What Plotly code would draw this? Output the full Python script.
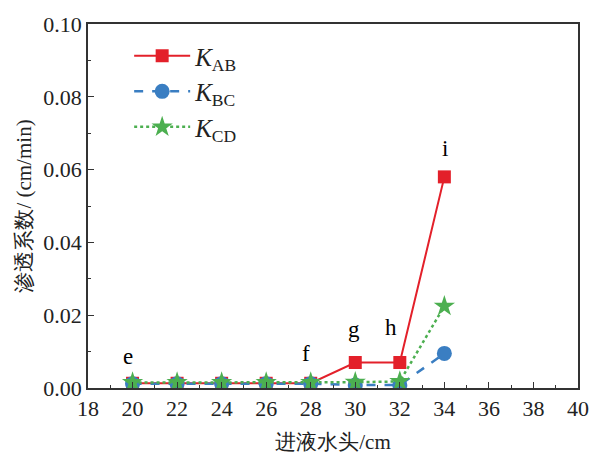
import plotly.graph_objects as go

head = [20, 22, 24, 26, 28, 30, 32, 34]
k_ab = [0.0013, 0.0013, 0.0013, 0.0013, 0.0013, 0.0070, 0.0070, 0.0580]
k_bc = [0.0012, 0.0012, 0.0012, 0.0012, 0.0012, 0.0008, 0.0008, 0.0095]
k_cd = [0.0015, 0.0015, 0.0015, 0.0015, 0.0015, 0.0016, 0.0018, 0.0225]

label_text = ["e", "f", "g", "h", "i"]
label_x = [19.8, 27.8, 29.95, 31.6, 34.05]
label_y = [0.0086, 0.0094, 0.0161, 0.0166, 0.0657]

serif = "Liberation Serif"
tickserif = "Times New Roman"
red = "#E3202A"
blue = "#3A7EC2"
green = "#4CAF50"

fig = go.Figure()
fig.add_trace(go.Scatter(x=head, y=k_ab, mode="lines+markers", name="<i>K</i><sub>AB</sub>",
                         line=dict(color=red, width=2),
                         marker=dict(symbol="square", size=13, color=red)))
fig.add_trace(go.Scatter(x=head, y=k_bc, mode="lines+markers", name="<i>K</i><sub>BC</sub>",
                         line=dict(color=blue, width=2.5, dash="dash"),
                         marker=dict(symbol="circle", size=15, color=blue)))
fig.add_trace(go.Scatter(x=head, y=k_cd, mode="lines+markers", name="<i>K</i><sub>CD</sub>",
                         line=dict(color=green, width=2.5, dash="dot"),
                         marker=dict(symbol="star", size=16, color=green)))

for t, x, y in zip(label_text, label_x, label_y):
    fig.add_annotation(x=x, y=y, text=t, showarrow=False,
                       font=dict(family=serif, size=23, color="black"))

tickfont = dict(family=tickserif, size=22, color="#222222")

fig.update_layout(
    width=601, height=462,
    margin=dict(l=88, r=13, t=18, b=72),
    font=dict(family=serif, color="#222222", size=22),
    plot_bgcolor="white", paper_bgcolor="white",
    xaxis=dict(range=[18, 40], dtick=2, tick0=18, tickmode="linear",
               showline=True, linecolor="#333333", linewidth=1.5, mirror=True,
               ticks="inside", ticklen=6, tickwidth=1.2, tickcolor="#333333",
               showgrid=False, zeroline=False, tickfont=tickfont,
               minor=dict(ticks="inside", ticklen=3, dtick=1, tickcolor="#333333", showgrid=False),
               title=dict(text="进液水头/cm", font=dict(family=serif, size=21, color="#222222"), standoff=14)),
    yaxis=dict(range=[0, 0.10], dtick=0.02, tick0=0, tickmode="linear", tickformat=".2f",
               showline=True, linecolor="#333333", linewidth=1.5, mirror=True,
               ticks="inside", ticklen=6, tickwidth=1.2, tickcolor="#333333",
               showgrid=False, zeroline=False, tickfont=tickfont,
               minor=dict(ticks="inside", ticklen=3, dtick=0.01, tickcolor="#333333", showgrid=False),
               title=dict(text="渗透系数/ (cm/min)", font=dict(family=serif, size=21, color="#222222"), standoff=6)),
    legend=dict(x=0.084, y=0.975, xanchor="left", yanchor="top",
                font=dict(family=serif, size=25, color="#222222"),
                bgcolor="rgba(0,0,0,0)", itemwidth=56),
    showlegend=True,
)

fig.write_html("out.html")
